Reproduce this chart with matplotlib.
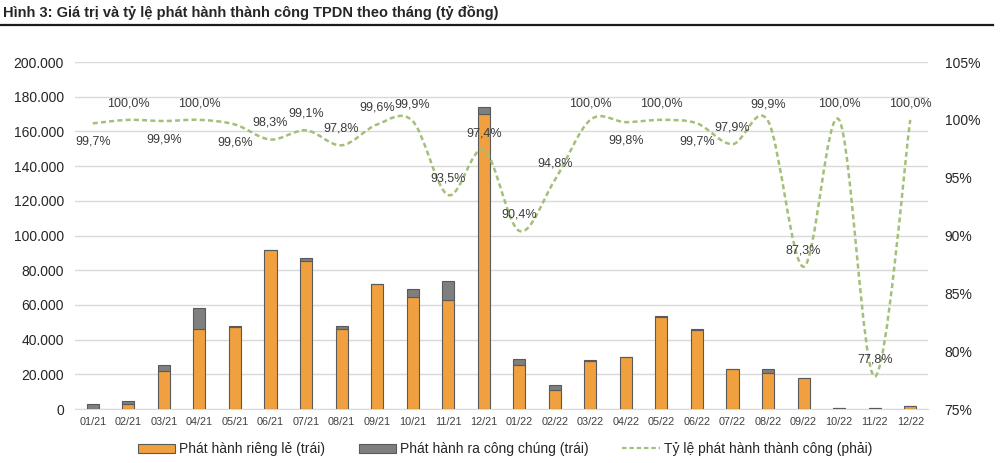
import matplotlib
matplotlib.use("Agg")
import matplotlib.pyplot as plt
import numpy as np
from matplotlib.path import Path
from matplotlib.patches import PathPatch, Patch
from matplotlib.lines import Line2D
from matplotlib.ticker import FuncFormatter, MultipleLocator

plt.rcParams['font.family'] = ['Liberation Sans', 'DejaVu Sans']

months = ["01/21", "02/21", "03/21", "04/21", "05/21", "06/21", "07/21", "08/21",
          "09/21", "10/21", "11/21", "12/21", "01/22", "02/22", "03/22", "04/22",
          "05/22", "06/22", "07/22", "08/22", "09/22", "10/22", "11/22", "12/22"]
private = [0, 2700, 22000, 46000, 47300, 91500, 85300, 46000,
           72000, 64600, 63000, 169800, 25300, 11000, 27800, 29700,
           52800, 45500, 23200, 20900, 17600, 300, 300, 1900]
public = [2800, 2100, 3400, 12500, 700, 100, 2000, 2000,
          0, 4400, 11000, 4000, 3700, 2800, 400, 0,
          800, 500, 0, 1900, 0, 0, 0, 0]
rate = [99.7, 100.0, 99.9, 100.0, 99.6, 98.3, 99.1, 97.8,
        99.6, 99.9, 93.5, 97.4, 90.4, 94.8, 100.0, 99.8,
        100.0, 99.7, 97.9, 99.9, 87.3, 100.0, 77.8, 100.0]
# label placement: +1 above, -1 below
label_side = [-1, 1, -1, 1, -1, 1, 1, 1, 1, 1, 1, 1, 1, 1, 1, -1,
              1, -1, 1, 1, 1, 1, 1, 1]

orange = "#F0A03E"
grey = "#7F7F7F"
edge = "#5A5A5A"
green = "#A4BF78"

fig = plt.figure(figsize=(10, 4.63), dpi=100)
ax = fig.add_axes([0.075, 0.1166, 0.853, 0.7494])
ax2 = ax.twinx()

x = np.arange(len(months))
w = 0.34
ax.bar(x, private, w, color=orange, edgecolor=edge, linewidth=0.8, zorder=3)
ax.bar(x, public, w, bottom=private, color=grey, edgecolor=edge, linewidth=0.8, zorder=3)

ax.set_ylim(0, 200000)
ax.set_xlim(-0.5, len(months) - 0.5)
ax.yaxis.set_major_locator(MultipleLocator(20000))
ax.yaxis.set_major_formatter(FuncFormatter(lambda v, p: f"{int(v):,}".replace(",", ".")))
ax.grid(axis='y', color="#D9D9D9", linewidth=1.0, zorder=0)
ax.set_axisbelow(True)
for s in ax.spines.values():
    s.set_visible(False)
for s in ax2.spines.values():
    s.set_visible(False)
ax.spines['bottom'].set_visible(True)
ax.spines['bottom'].set_color("#D9D9D9")
ax.set_xticks(x)
ax.set_xticklabels(months, fontsize=7.8, color="#404040", family=['Liberation Sans Narrow', 'Liberation Sans', 'DejaVu Sans'])
ax.tick_params(axis='x', length=0, pad=6)
ax.tick_params(axis='y', length=0, labelsize=10, colors="#262626", pad=8)

# smoothed line (Excel-style bezier through data points)
r = np.array(rate) / 100.0
pts = np.column_stack([x, r])
verts = [tuple(pts[0])]
codes = [Path.MOVETO]
n = len(pts)
for i in range(n - 1):
    p0 = pts[i - 1] if i > 0 else pts[i]
    p1 = pts[i]
    p2 = pts[i + 1]
    p3 = pts[i + 2] if i + 2 < n else pts[i + 1]
    c1 = p1 + (p2 - p0) / 6.0
    c2 = p2 - (p3 - p1) / 6.0
    verts += [tuple(c1), tuple(c2), tuple(p2)]
    codes += [Path.CURVE4, Path.CURVE4, Path.CURVE4]
path = Path(verts, codes)
patch = PathPatch(path, fill=False, edgecolor=green, linewidth=1.8,
                  linestyle=(0, (2.0, 1.3)), zorder=4)
ax2.add_patch(patch)
ax2.set_ylim(0.75, 1.05)
ax2.yaxis.set_major_locator(MultipleLocator(0.05))
ax2.yaxis.set_major_formatter(FuncFormatter(lambda v, p: f"{v*100:.0f}%"))
ax2.tick_params(axis='y', length=0, labelsize=10, colors="#262626", pad=12)
ax2.set_xlim(-0.5, len(months) - 0.5)

for xi, ri, side in zip(x, rate, label_side):
    off = 12 if side > 0 else -13
    ax2.annotate(f"{ri:.1f}%".replace(".", ","), (xi, ri / 100.0),
                 xytext=(0, off), textcoords='offset points',
                 ha='center', va='center', fontsize=9, color="#3a3a3a", zorder=6)

# title
fig.text(0.003, 0.972, "Hình 3: Giá trị và tỷ lệ phát hành thành công TPDN theo tháng (tỷ đồng)",
         fontsize=10.5, fontweight='bold', color="#262626", ha='left', va='center')
fig.add_artist(Line2D([0.0, 0.993], [0.945, 0.945], transform=fig.transFigure,
                      color="#1a1a1a", linewidth=1.6))

handles = [Patch(facecolor=orange, edgecolor=edge, linewidth=0.8),
           Patch(facecolor=grey, edgecolor=edge, linewidth=0.8),
           Line2D([0], [0], color=green, linewidth=1.6, linestyle=(0, (2.0, 1.3)))]
labels = ["Phát hành riêng lẻ (trái)", "Phát hành ra công chúng (trái)",
          "Tỷ lệ phát hành thành công (phải)"]
fig.legend(handles, labels, loc='center', bbox_to_anchor=(0.505, 0.03), ncol=3,
           frameon=False, fontsize=10, handlelength=2.7, handleheight=0.6,
           columnspacing=2.4, handletextpad=0.3, labelcolor="#262626")

fig.savefig("out.png", dpi=100)
